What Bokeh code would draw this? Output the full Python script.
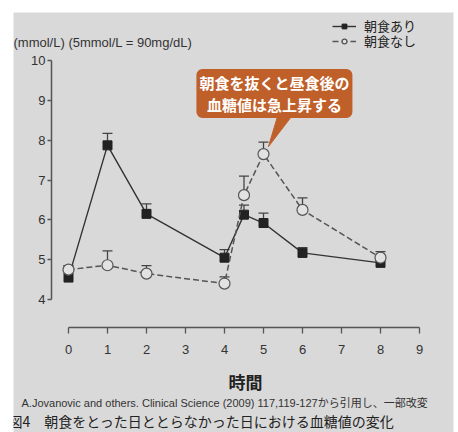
from bokeh.plotting import figure
from bokeh.models import (ColumnDataSource, Whisker, TeeHead, Label, Legend, LegendItem,
                          FixedTicker, Range1d)
from bokeh.embed import file_html
from bokeh.resources import INLINE

# ---- data ----
hours = [0, 1, 2, 4, 4.5, 5, 6, 8]
with_breakfast = [4.55, 7.87, 6.15, 5.05, 6.13, 5.92, 5.17, 4.92]
with_breakfast_err_top = [4.85, 8.17, 6.40, 5.25, 6.37, 6.17, 5.30, 5.05]
no_breakfast = [4.75, 4.86, 4.65, 4.40, 6.62, 7.65, 6.25, 5.05]
no_breakfast_err_top = [4.85, 5.22, 4.85, 4.57, 7.10, 7.95, 6.55, 5.20]
x_ticks = [0, 1, 2, 3, 4, 5, 6, 7, 8, 9]
y_ticks = [4, 5, 6, 7, 8, 9, 10]
series_names = ["朝食あり", "朝食なし"]
y_label = "(mmol/L) (5mmol/L = 90mg/dL)"
x_label = "時間"
callout_text = "朝食を抜くと昼食後の\n血糖値は急上昇する"
citation = "A.Jovanovic and others. Clinical Science (2009) 117,119-127から引用し、一部改変"
caption = "図4　朝食をとった日ととらなかった日における血糖値の変化"

BG = "#d9d9d9"
JP = "Noto Sans CJK JP"
LAT = "Liberation Sans, Noto Sans CJK JP"

p = figure(width=458, height=432, output_backend="svg", toolbar_location=None,
           x_range=Range1d(-1.4103, 9.8718), y_range=Range1d(0.6608, 11.2056),
           min_border_left=13, min_border_top=12, min_border_right=5, min_border_bottom=0)
p.background_fill_color = BG
p.border_fill_color = "white"
p.outline_line_color = None
p.grid.visible = False

src_a = ColumnDataSource(dict(x=hours, y=with_breakfast, top=with_breakfast_err_top))
src_b = ColumnDataSource(dict(x=hours, y=no_breakfast, top=no_breakfast_err_top))

for src in (src_a, src_b):
    w = Whisker(source=src, base="x", lower="y", upper="top", dimension="height",
                line_color="#444444", line_width=1.3, lower_head=None,
                upper_head=TeeHead(size=10, line_color="#444444", line_width=1.3),
                level="underlay")
    p.add_layout(w)

la = p.line("x", "y", source=src_a, line_color="#333333", line_width=1.4)
sa = p.scatter("x", "y", source=src_a, marker="square", size=9,
               fill_color="#222222", line_color="#222222")
lb = p.line("x", "y", source=src_b, line_color="#555555", line_width=1.5, line_dash="6 3")
sb = p.scatter("x", "y", source=src_b, marker="circle", size=11,
               fill_color="#e2e2e2", line_color="#555555", line_width=1.2)

# axes drawn at fixed positions inside the frame
p.xaxis.ticker = FixedTicker(ticks=x_ticks)
p.yaxis.ticker = FixedTicker(ticks=y_ticks)
p.xaxis.bounds = (x_ticks[0], x_ticks[-1])
p.yaxis.bounds = (y_ticks[0], y_ticks[-1])
p.xaxis.fixed_location = 3.297
p.yaxis.fixed_location = -0.436
for ax in (p.xaxis[0], p.yaxis[0]):
    ax.axis_line_color = "#555555"
    ax.axis_line_width = 1.5
    ax.major_tick_line_color = "#555555"
    ax.major_tick_line_width = 1.3
    ax.minor_tick_line_color = None
    ax.major_tick_in = 0
    ax.major_label_text_font = LAT
    ax.major_label_text_font_size = "13px"
    ax.major_label_text_color = "#333333"
p.xaxis.major_tick_out = 6
p.xaxis.major_label_standoff = 11
p.yaxis.major_tick_out = 4
p.yaxis.major_label_standoff = 2

# legend (one entry per row so the rows sit as in the reference)
legend_rows = [(series_names[0], [la, sa], 397), (series_names[1], [lb, sb], 382)]
for name, rends, ypos in legend_rows:
    lg = Legend(items=[LegendItem(label=name, renderers=rends)],
                location=(319, ypos), background_fill_alpha=0, border_line_alpha=0,
                glyph_width=24, glyph_height=12, label_standoff=8, spacing=0, padding=0,
                margin=0, label_text_font=LAT, label_text_font_size="13px", label_height=14,
                label_text_color="#222222")
    p.add_layout(lg)

# texts
p.add_layout(Label(x=-1.41, y=10.452, text=y_label, text_font=LAT, text_font_size="13px",
                   text_baseline="middle", text_color="#333333"))
p.add_layout(Label(x=4.538, y=1.941, text=x_label, text_font=JP, text_font_size="17px",
                   text_font_style="bold", text_align="center", text_baseline="middle",
                   text_color="#222222"))
p.add_layout(Label(x=-1.205, y=1.414, text=citation, text_font=LAT, text_font_size="11px",
                   text_baseline="middle", text_color="#333333"))
p.add_layout(Label(x=-1.538, y=0.962, text=caption, text_font=JP, text_font_size="14px",
                   text_baseline="middle", text_color="#222222"))

# callout
CALL = "#bf5f2a"
p.patch([5.128, 5.359, 5.718], [7.84, 8.595, 8.595], fill_color=CALL, line_color=CALL)
p.add_layout(Label(x=5.28, y=9.172, text=callout_text, text_font=JP, text_font_size="15px",
                   text_font_style="bold", text_color="white", text_align="center",
                   text_baseline="middle", background_fill_color=CALL, border_radius=6,
                   padding=3, text_line_height=1.05))

open("out.html", "w").write(file_html(p, INLINE))
